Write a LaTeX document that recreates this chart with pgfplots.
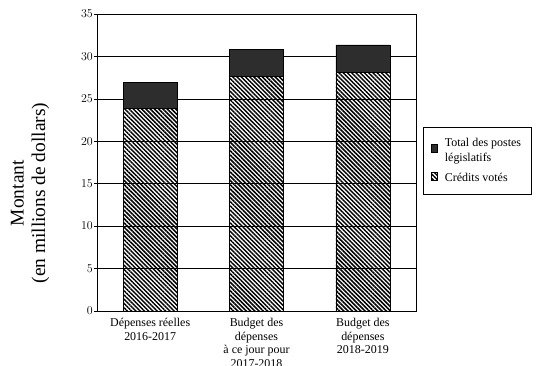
\documentclass[border=0pt]{standalone}
\usepackage{fontspec}
\setmainfont{Liberation Serif}
\usepackage{pgfplots}
\pgfplotsset{compat=1.18}
\usetikzlibrary{patterns.meta}
\definecolor{darkbar}{RGB}{45,45,45}
\pgfplotsset{/pgfplots/ybar legend/.style={/pgfplots/legend image code/.code={\draw[##1] (0bp,-5.5bp) rectangle (11bp,5.5bp);}}}
\begin{document}
\begin{tikzpicture}
\path[use as bounding box] (0,0) rectangle (536bp,366bp);
\begin{axis}[
  at={(97bp,55bp)}, anchor=south west,
  width=319bp, height=297bp, scale only axis,
  ybar stacked, bar width=54bp,
  xmin=-0.5, xmax=2.5, ymin=0, ymax=35,
  xtick={0,1,2},
  xticklabels={{Dépenses réelles\\2016-2017},{Budget des\\dépenses\\à ce jour pour\\2017-2018},{Budget des\\dépenses\\2018-2019}},
  x tick style={draw=none},
  ytick={0,5,...,35}, ytick pos=left,
  ymajorgrids, grid style={black, line width=0.6bp},
  tick align=outside, y tick style={black, line width=0.6bp}, major tick length=3bp,
  axis line style={black, line width=0.8bp},
  yticklabel style={font=\fontsize{11.5}{13}\selectfont, inner xsep=1bp},
  xticklabel style={align=center, font=\fontsize{12}{13.5}\selectfont, yshift=-1bp},
  ylabel={Montant\\(en millions de dollars)},
  every axis y label/.style={at={(rel axis cs:-0.21,0.397)}, rotate=90, anchor=center, align=center, font=\fontsize{19.5}{21.5}\selectfont},
  legend style={at={(rel axis cs:1.022,0.6195)}, anchor=north west, draw=black, line width=0.6bp,
    font=\fontsize{12}{14.5}\selectfont, cells={align=left, anchor=west}, inner xsep=8bp, inner ysep=9bp, row sep=7bp,
    column sep=5bp},
  reverse legend,
]
\addplot[pattern={Lines[angle=-45,distance=3bp,line width=1.5bp]}, draw=black, line width=0.6bp]
  coordinates {(0,23.85) (1,27.65) (2,28.15)};
\addlegendentry{Crédits votés}
\addplot[fill=darkbar, draw=black, line width=0.6bp]
  coordinates {(0,3.1) (1,3.2) (2,3.2)};
\addlegendentry{Total des postes\\législatifs}
\end{axis}
\end{tikzpicture}
\end{document}
